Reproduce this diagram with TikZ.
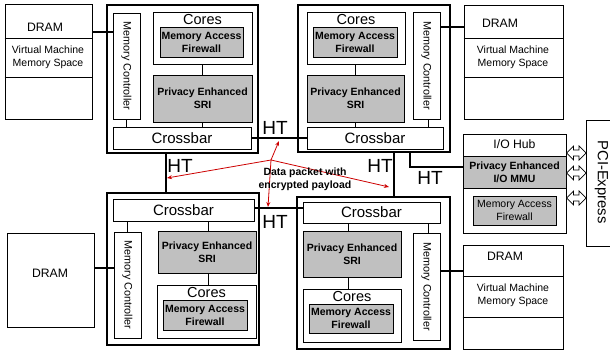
\documentclass[tikz,border=0pt]{standalone}
\usepackage{fontspec}
\setmainfont{Liberation Sans}
\usetikzlibrary{arrows.meta}
\definecolor{boxgray}{RGB}{192,192,192}
\definecolor{pktred}{RGB}{204,0,0}
\newcommand\fsmall{\fontsize{10.5}{13}\selectfont}
\newcommand\fmc{\fontsize{10.8}{13}\selectfont}
\newcommand\fbold{\fontsize{10.5}{13}\selectfont\bfseries}
\newcommand\fcb{\fontsize{15}{17}\selectfont}
\newcommand\fcores{\fontsize{14.5}{16}\selectfont}
\newcommand\fdram{\fontsize{12.2}{14}\selectfont}
\newcommand\fht{\fontsize{19}{20}\selectfont}
\begin{document}
\begin{tikzpicture}[x=1pt,y=-1pt,
  outerbox/.style={draw, line width=2.2pt, inner sep=0pt},
  inbox/.style={draw, line width=0.9pt, fill=white, inner sep=0pt, align=center},
  graybox/.style={inbox, fill=boxgray, font=\fbold},
  lgraybox/.style={inbox, fill=boxgray, font=\fsmall},
  cbbox/.style={inbox, font=\fcb},
  txt/.style={inner sep=0pt, align=center},
  mctxt/.style={txt, rotate=-90, font=\fmc},
  corestxt/.style={txt, font=\fcores},
  dramtxt/.style={txt, font=\fdram},
  vmtxt/.style={txt, font=\fsmall},
  httxt/.style={txt, font=\fht},
  link/.style={line width=2.2pt},
  conn/.style={line width=0.9pt},
  divline/.style={line width=0.9pt},
  pktarrow/.style={draw=pktred, line width=0.8pt, -{Stealth[length=5pt,width=4pt]}},
  dblarrowpath/.style={draw, line width=0.7pt, fill=white, line join=miter}
]
\useasboundingbox (0,0) rectangle (610,352);

% ===== Top-left node =====
\node[outerbox, minimum width=151pt, minimum height=148pt] (tl) at (182.5,79) {};
\node[inbox, minimum width=27pt, minimum height=106pt] (tlmc) at (126.5,66) {};
\node[mctxt] (tlmctxt) at (tlmc.center) {Memory Controller};
\node[inbox, minimum width=99pt, minimum height=52pt] (tlcores) at (202.5,38) {};
\node[corestxt] (tlcorestxt) at (202.5,19.5) {Cores};
\node[graybox, minimum width=83pt, minimum height=30pt] (tlmaf) at (201.5,42) {Memory Access\\Firewall};
\node[graybox, minimum width=99pt, minimum height=47pt] (tlsri) at (202.5,98.5) {Privacy Enhanced\\SRI};
\node[cbbox, minimum width=138pt, minimum height=22pt] (tlcb) at (182,138) {Crossbar};
\draw[conn] (tlcores.south) -- (tlsri.north);
\draw[conn] (tlsri.south) -- (tlsri.south |- tlcb.north);
\draw[conn] (tlmc.south) -- (tlmc.south |- tlcb.north);
% DRAM TL
\node[inbox, minimum width=87pt, minimum height=115pt] (tldram) at (48.5,61.5) {};
\coordinate (tld1) at (0,38); \coordinate (tld2) at (0,77);
\draw[divline] (tldram.west |- tld1) -- (tldram.east |- tld1);
\draw[divline] (tldram.west |- tld2) -- (tldram.east |- tld2);
\node[dramtxt] (tldramtxt) at (45,27) {DRAM};
\node[vmtxt] (tlvm) at (48,57) {Virtual Machine\\Memory Space};
\coordinate (tlml) at (0,32);
\draw[link] (tldram.east |- tlml) -- (tlmc.west |- tlml);

% ===== Top-right node =====
\node[outerbox, minimum width=152pt, minimum height=147pt] (tr) at (374,78.5) {};
\node[inbox, minimum width=98pt, minimum height=52pt] (trcores) at (356,38) {};
\node[corestxt] (trcorestxt) at (356,19.5) {Cores};
\node[graybox, minimum width=84pt, minimum height=30pt] (trmaf) at (355,42) {Memory Access\\Firewall};
\node[graybox, minimum width=97pt, minimum height=47pt] (trsri) at (355.5,98.5) {Privacy Enhanced\\SRI};
\node[inbox, minimum width=27pt, minimum height=107pt] (trmc) at (426.5,65.5) {};
\node[mctxt] (trmctxt) at (trmc.center) {Memory Controller};
\node[cbbox, minimum width=136pt, minimum height=22pt] (trcb) at (375,138) {Crossbar};
\draw[conn] (trsri.north) -- (trsri.north |- trcores.south);
\draw[conn] (trsri.south) -- (trsri.south |- trcb.north);
\coordinate (trmcx) at (428,0);
\draw[conn] (trmc.south -| trmcx) -- (trcb.north -| trmcx);
% DRAM TR
\node[inbox, minimum width=99pt, minimum height=114pt] (trdram) at (513.5,62) {};
\draw[divline] (trdram.west |- tld1) -- (trdram.east |- tld1);
\draw[divline] (trdram.west |- tld2) -- (trdram.east |- tld2);
\node[dramtxt] (trdramtxt) at (500,23) {DRAM};
\node[vmtxt] (trvm) at (513,57) {Virtual Machine\\Memory Space};
\coordinate (trml) at (0,27);
\draw[link] (trmc.east |- trml) -- (trdram.west |- trml);

% ===== Bottom-left node =====
\node[outerbox, minimum width=152pt, minimum height=152pt] (bl) at (183,269) {};
\node[cbbox, minimum width=141pt, minimum height=22pt] (blcb) at (183.5,210) {Crossbar};
\node[inbox, minimum width=27pt, minimum height=106pt] (blmc) at (127.5,285) {};
\node[mctxt] (blmctxt) at (blmc.center) {Memory Controller};
\node[graybox, minimum width=98pt, minimum height=42pt] (blsri) at (207,252) {Privacy Enhanced\\SRI};
\node[inbox, minimum width=99pt, minimum height=53pt] (blcores) at (206.5,311.5) {};
\node[corestxt] (blcorestxt) at (206.5,293) {Cores};
\node[graybox, minimum width=84pt, minimum height=30pt] (blmaf) at (205,315) {Memory Access\\Firewall};
\draw[conn] (blmc.north) -- (blmc.north |- blcb.south);
\coordinate (blsx) at (208,0);
\draw[conn] (blcb.south -| blsx) -- (blsri.north -| blsx);
\draw[conn] (blsri.south -| blsx) -- (blcores.north -| blsx);
% DRAM BL
\node[inbox, minimum width=87pt, minimum height=94pt] (bldram) at (50.5,280) {};
\node[dramtxt] (bldramtxt) at (50,273) {DRAM};
\coordinate (blml) at (0,268);
\draw[link] (bldram.east |- blml) -- (blmc.west |- blml);

% ===== Bottom-right node =====
\node[outerbox, minimum width=153pt, minimum height=152pt] (br) at (373.5,273) {};
\node[cbbox, minimum width=137pt, minimum height=21pt] (brcb) at (371.5,212.5) {Crossbar};
\node[graybox, minimum width=98pt, minimum height=46pt] (brsri) at (352,254) {Privacy Enhanced\\SRI};
\node[inbox, minimum width=98pt, minimum height=53pt] (brcores) at (352,315.5) {};
\node[corestxt] (brcorestxt) at (352,297) {Cores};
\node[graybox, minimum width=84pt, minimum height=29pt] (brmaf) at (351,318.5) {Memory Access\\Firewall};
\node[inbox, minimum width=27pt, minimum height=107pt] (brmc) at (426.5,286.5) {};
\node[mctxt] (brmctxt) at (brmc.center) {Memory Controller};
\coordinate (brsx) at (348,0);
\draw[conn] (brcb.south -| brsx) -- (brsri.north -| brsx);
\draw[conn] (brsri.south -| brsx) -- (brcores.north -| brsx);
\draw[conn] (brcb.south -| trmcx) -- (brmc.north -| trmcx);
% DRAM BR
\node[inbox, minimum width=100pt, minimum height=104pt] (brdram) at (513,297) {};
\coordinate (brd1) at (0,276); \coordinate (brd2) at (0,317);
\draw[divline] (brdram.west |- brd1) -- (brdram.east |- brd1);
\draw[divline] (brdram.west |- brd2) -- (brdram.east |- brd2);
\node[dramtxt] (brdramtxt) at (505,256) {DRAM};
\node[vmtxt] (brvm) at (513,295.5) {Virtual Machine\\Memory Space};
\coordinate (brml) at (0,271);
\draw[link] (brmc.east |- brml) -- (brdram.west |- brml);

% ===== I/O Hub =====
\node[inbox, minimum width=103pt, minimum height=99pt] (iohub) at (514.5,183.5) {};
\node[dramtxt] (iohubtxt) at (514.5,144.5) {I/O Hub};
\node[graybox, minimum width=103pt, minimum height=32pt] (iommu) at (514.5,172) {Privacy Enhanced\\I/O MMU};
\node[lgraybox, minimum width=83pt, minimum height=29pt] (iomaf) at (514.5,210.5) {Memory Access\\Firewall};

% PCI-Express
\node[inbox, minimum width=30pt, minimum height=126pt, anchor=north west] (pci) at (586,120) {};
\node[txt, rotate=-90, font=\fontsize{14.8}{16}\selectfont] (pcitxt) at (601.5,182) {PCI-Express};
% hollow double arrows between I/O hub and PCI-Express
\foreach \n/\yy in {da1/153, da2/173, da3/198}{
  \coordinate (\n) at (566.5,\yy);
  \draw[dblarrowpath] (\n) -- ++(7,-7) -- ++(0,4) -- ++(5.5,0) -- ++(0,-4) -- ++(7,7)
     -- ++(-7,7) -- ++(0,-4) -- ++(-5.5,0) -- ++(0,4) -- cycle;
}

% ===== HT links =====
\draw[link] (tlcb.east) -- (trcb.west);
\coordinate (lhx) at (166,0);
\draw[link] (tl.south -| lhx) -- (bl.north -| lhx);
\coordinate (bhy) at (0,208);
\draw[link] (blcb.east |- bhy) -- (brcb.west |- bhy);
\coordinate (rhx) at (394,0);
\draw[link] (tr.south -| rhx) -- (br.north -| rhx);
\coordinate (iox) at (410,0); \coordinate (ioy) at (0,167);
\draw[link] (tr.south -| iox) |- (iommu.west |- ioy);

\node[httxt] (httop) at (275,128) {HT};
\node[httxt] (htleft) at (180,166) {HT};
\node[httxt] (htright) at (380,166) {HT};
\node[httxt] (htbottom) at (275,222) {HT};
\node[httxt] (htio) at (430,178) {HT};

% ===== Data packet =====
\coordinate (pkt) at (271,160);
\coordinate (pktup) at (279,141);
\coordinate (pktleft) at (167,178);
\coordinate (pktright) at (389,187);
\coordinate (pktdown) at (268,207);
\draw[pktarrow] (pkt) -- (pktup);
\draw[pktarrow] (pkt) -- (pktleft);
\draw[pktarrow] (pkt) -- (pktright);
\draw[pktarrow] (pkt) -- (pktdown);
\node[txt, font=\fbold] (pkttxt) at (305,179.5) {Data packet with\\encrypted payload};
\end{tikzpicture}
\end{document}
